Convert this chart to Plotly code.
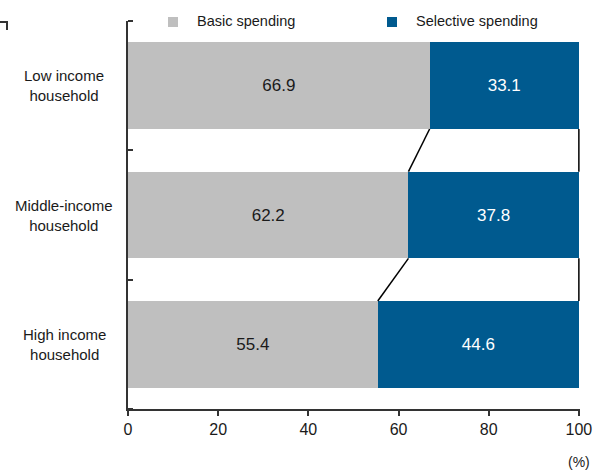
import plotly.graph_objects as go

categories = ["Low income<br>household", "Middle-income<br>household", "High income<br>household"]
basic = [66.9, 62.2, 55.4]
selective = [33.1, 37.8, 44.6]
x_ticks = [0, 20, 40, 60, 80, 100]
series_names = ["Basic spending", "Selective spending"]

FONT = "Liberation Sans, Arial"
GREY = "#BFBFBF"
BLUE = "#005A8F"
TXT = "#1a1a1a"
BAR_W = 0.67
ypos = list(range(len(categories)))

# plot-area geometry in pixels (for layout decorations)
L, R, T, B = 128, 15, 21, 63
W, H = 595, 472
PW, PH = W - L - R, H - T - B


def px_x(px):
    return (px - L) / PW


def px_y(py):
    return (H - B - py) / PH


fig = go.Figure()
fig.add_trace(go.Bar(
    y=ypos, x=basic, orientation="h", name=series_names[0], width=BAR_W,
    marker=dict(color=GREY, line=dict(width=0)),
    texttemplate="%{x:.1f}", textposition="inside", insidetextanchor="middle",
    textfont=dict(color=TXT, size=17, family=FONT), textangle=0, showlegend=False,
))
fig.add_trace(go.Bar(
    y=ypos, x=selective, orientation="h", name=series_names[1], width=BAR_W,
    marker=dict(color=BLUE, line=dict(width=0)),
    texttemplate="%{x:.1f}", textposition="inside", insidetextanchor="middle",
    textfont=dict(color="white", size=17, family=FONT), textangle=0, showlegend=False,
))

# connector lines between consecutive bars
half = BAR_W / 2
for i in range(len(categories) - 1):
    b1, b2 = basic[i], basic[i + 1]
    t1 = basic[i] + selective[i]
    t2 = basic[i + 1] + selective[i + 1]
    for xa, xb in ((b1, b2), (t1, t2)):
        fig.add_trace(go.Scatter(x=[xa, xb], y=[ypos[i] + half, ypos[i + 1] - half],
                                 mode="lines", line=dict(color="black", width=1.5),
                                 showlegend=False, hoverinfo="skip"))

annotations = []
# category labels, centred multi-line
for cy, cat in zip(ypos, categories):
    annotations.append(dict(text=cat, x=px_x(64), xref="paper", y=cy, yref="y",
                            showarrow=False, xanchor="center", yanchor="middle",
                            align="center", font=dict(size=15, family=FONT, color=TXT)))
annotations.append(dict(text="(%)", x=100, xref="x", y=px_y(462), yref="paper",
                        showarrow=False, xanchor="center", yanchor="middle",
                        font=dict(size=14, family=FONT, color=TXT)))

# manual legend
legend_sq = [(168, GREY), (387, BLUE)]
shapes = []
for (sx, col), name in zip(legend_sq, series_names):
    shapes.append(dict(type="rect", xref="paper", yref="paper",
                       x0=px_x(sx), x1=px_x(sx + 10), y0=px_y(27), y1=px_y(17),
                       fillcolor=col, line=dict(width=0)))
    annotations.append(dict(text=name, x=px_x(sx + 27), xref="paper", y=px_y(21),
                            yref="paper", showarrow=False, xanchor="left",
                            yanchor="middle", font=dict(size=14.5, family=FONT, color=TXT)))

# small corner mark at top-left of reference
shapes.append(dict(type="path", xref="paper", yref="paper",
                   path=f"M {px_x(0)} {px_y(22)} L {px_x(7)} {px_y(22)} L {px_x(7)} {px_y(30)}",
                   line=dict(color="#333", width=2)))

fig.update_layout(
    barmode="stack",
    width=W, height=H,
    margin=dict(l=L, r=R, t=T, b=B),
    plot_bgcolor="white", paper_bgcolor="white",
    font=dict(family=FONT, size=16, color=TXT),
    showlegend=False,
    xaxis=dict(range=[0, 100.25], tickvals=x_ticks, ticks="outside", ticklen=5,
               tickwidth=2, tickcolor="#333", showline=True, linecolor="#333",
               linewidth=2, showgrid=False, zeroline=False, automargin=False,
               tickfont=dict(size=16, family=FONT, color=TXT)),
    yaxis=dict(range=[2.5, -0.5], tickvals=ypos, showticklabels=False, ticks="",
               showline=True, linecolor="#333", linewidth=2, showgrid=False,
               zeroline=False, automargin=False,
               minor=dict(tickvals=[-0.5, 0.5, 1.5, 2.5], ticks="inside", ticklen=5,
                          tickwidth=2, tickcolor="#333", showgrid=False)),
    annotations=annotations,
    shapes=shapes,
)

fig.write_html("out.html", config={"displayModeBar": False},
               post_script="document.body.style.margin='0';document.body.style.overflow='hidden';")
